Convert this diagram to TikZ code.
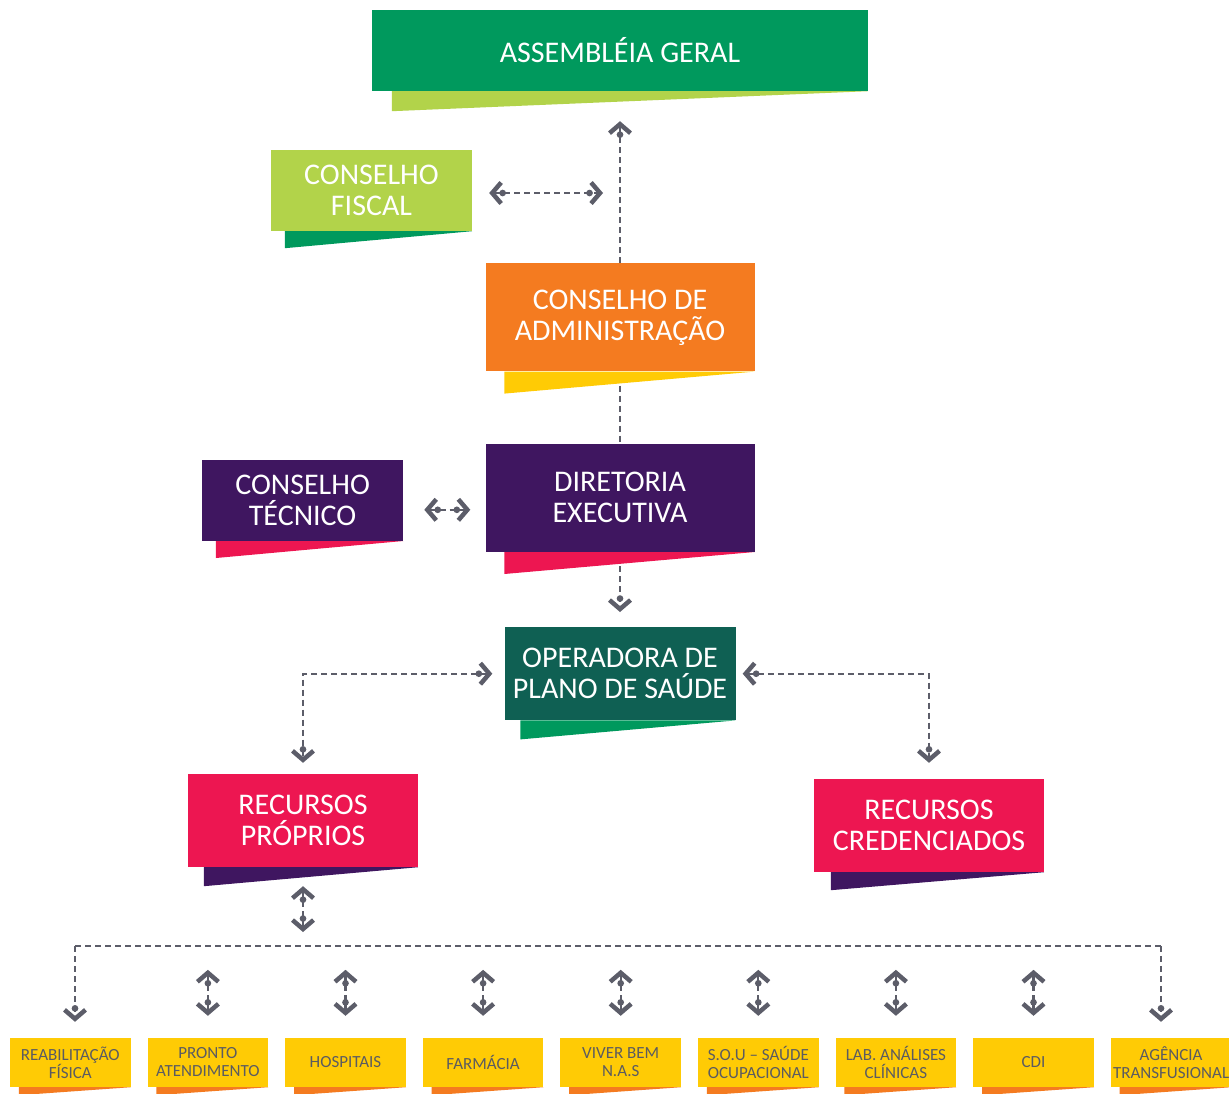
\documentclass[tikz,border=0pt]{standalone}
\usepackage{fontspec}
\setmainfont{Carlito}
\usetikzlibrary{positioning,arrows.meta}
\definecolor{agreen}{RGB}{0,153,93}
\definecolor{lime}{RGB}{178,211,74}
\definecolor{orng}{RGB}{244,123,32}
\definecolor{gold}{RGB}{255,203,5}
\definecolor{purp}{RGB}{63,22,96}
\definecolor{rose}{RGB}{237,22,81}
\definecolor{teal}{RGB}{15,96,83}
\definecolor{ink}{RGB}{91,91,97}
\definecolor{linkgray}{RGB}{92,93,105}
\tikzset{box/.style = {rectangle, inner sep=0pt, text=white, align=center, font=\fontsize{30}{31}\selectfont}}
\tikzset{unit/.style = {rectangle, fill=gold, text=ink, inner sep=0pt, align=center, minimum width=120.6pt, minimum height=49pt, font=\fontsize{17}{18}\selectfont}}
\tikzset{link/.style = {draw=linkgray, line width=2.2pt, dash pattern=on 6pt off 4pt}}
\tikzset{chev/.tip = {Circle[length=6.5pt, sep=-4pt] Straight Barb[length=9pt, width=21pt, line width=4.5pt 0]}}
\newcommand{\flap}[4]{\fill[#2] ([xshift=#3pt]#1.south west) -- (#1.south east) -- ([xshift=#3pt, yshift=-#4pt]#1.south west) -- cycle;}

\begin{document}
\begin{tikzpicture}[x=1pt, y=-1pt]
  \useasboundingbox (0,0) rectangle (1229,1093);

  \node [box, fill=agreen, minimum width=496pt, minimum height=81pt] (ag) at (620,50.5) {ASSEMBLÉIA GERAL};
  \node [box, fill=lime, minimum width=201pt, minimum height=81pt] (fiscal) at (371.5,190.5) {CONSELHO\\FISCAL};
  \node [box, fill=orng, minimum width=269pt, minimum height=108pt, below=172pt of ag] (admin) {CONSELHO DE\\ADMINISTRAÇÃO};
  \node [box, fill=purp, minimum width=269pt, minimum height=108pt, below=72pt of admin] (dir) {DIRETORIA\\EXECUTIVA};
  \node [box, fill=purp, minimum width=201pt, minimum height=81pt, left=82pt of dir, yshift=-2.5pt] (tec) {CONSELHO\\TÉCNICO};
  \node [box, fill=teal, minimum width=231pt, minimum height=93pt, below=75pt of dir] (op) {OPERADORA DE\\PLANO DE SAÚDE};
  \node [box, fill=rose, minimum width=230pt, minimum height=93pt] (prop) at (303,820.5) {RECURSOS\\PRÓPRIOS};
  \node [box, fill=rose, minimum width=230pt, minimum height=93pt] (cred) at (929,825.5) {RECURSOS\\CREDENCIADOS};

  \node [unit] (b1) at (70.3,1062.5) {REABILITAÇÃO\\FÍSICA};
  \node [unit, right=16.6pt of b1] (b2) {PRONTO\\ATENDIMENTO};
  \node [unit, right=16.6pt of b2] (b3) {HOSPITAIS};
  \node [unit, right=16.6pt of b3] (b4) {FARMÁCIA};
  \node [unit, right=16.6pt of b4] (b5) {VIVER BEM\\N.A.S};
  \node [unit, right=16.6pt of b5] (b6) {S.O.U – SAÚDE\\OCUPACIONAL};
  \node [unit, right=16.6pt of b6] (b7) {LAB. ANÁLISES\\CLÍNICAS};
  \node [unit, right=16.6pt of b7] (b8) {CDI};
  \node [unit, right=16.6pt of b8] (b9) {AGÊNCIA\\TRANSFUSIONAL};

  \flap{ag}{lime}{20}{20}
  \flap{fiscal}{agreen}{14}{17}
  \flap{admin}{gold}{19}{22}
  \flap{dir}{rose}{19}{22}
  \flap{tec}{rose}{14}{17}
  \flap{op}{agreen}{16}{19}
  \flap{prop}{purp}{16}{19}
  \flap{cred}{purp}{17}{18}
  \foreach \b in {b1,b2,b3,b4,b5,b6,b7,b8,b9} {\flap{\b}{orng}{9}{8}}

  \coordinate (fx) at (admin.north |- fiscal.east);
  \coordinate (busL) at (75,946);
  \coordinate (busR) at (1161,946);

  \draw [link, -chev, shorten >=30pt] (admin.north) -- (ag.south);
  \draw [link, chev-chev, shorten <=17pt, shorten >=17pt] ([yshift=-2.5pt]fiscal.east) -- ([yshift=-2.5pt]fx);
  \draw [link, shorten <=14pt] (admin.south) -- (dir.north);
  \draw [link, -chev, shorten <=14pt, shorten >=15pt] (dir.south) -- (op.north);
  \draw [link, chev-chev, shorten <=21pt, shorten >=15pt] ([yshift=-9.5pt]tec.east) -- ([yshift=-9.5pt]tec.east -| dir.west);
  \draw [link, chev-chev, shorten <=12pt, shorten >=11pt] (op.west) -| (prop.north);
  \draw [link, chev-chev, shorten <=7pt, shorten >=16pt] (op.east) -| (cred.north);
  \draw [link, chev-chev, shorten <=19pt, shorten >=14pt] (prop.south) -- (prop.south |- busL);
  \draw [link] (busL) -- (busR);
  \draw [link, -chev, shorten >=16pt] (busL) -- (busL |- b1.north);
  \draw [link, -chev, shorten >=16pt] (busR) -- (busR |- b9.north);
  \foreach \b in {b2,b3,b4,b5,b6,b7,b8}
    \draw [link, chev-chev] ([yshift=68pt]\b.north) -- ([yshift=22pt]\b.north);
\end{tikzpicture}
\end{document}
